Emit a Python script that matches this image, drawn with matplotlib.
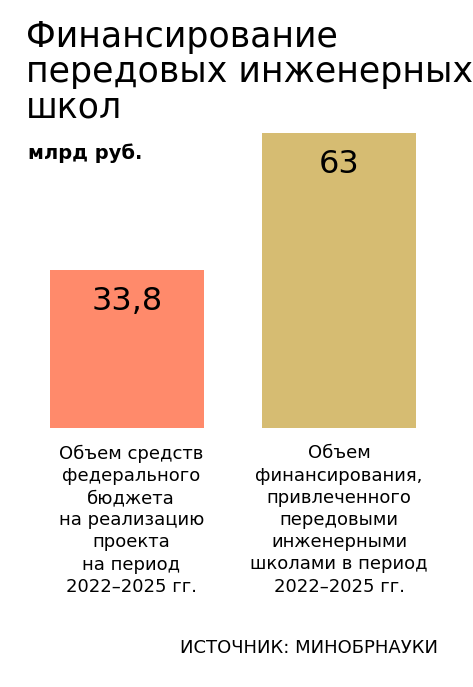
import matplotlib.pyplot as plt

plt.rcParams['font.family'] = ['Liberation Sans Narrow', 'DejaVu Sans']

values = [33.8, 63]
value_labels = ['33,8', '63']
captions = ['Объем средств\nфедерального\nбюджета\nна реализацию\nпроекта\nна период\n2022–2025 гг.',
            'Объем\nфинансирования,\nпривлеченного\nпередовыми\nинженерными\nшколами в период\n2022–2025 гг.']
colors = ['#FF8A6B', '#D6BC72']

W, H = 473, 687
fig = plt.figure(figsize=(W / 100, H / 100), dpi=100)
ax = fig.add_axes([50 / W, (H - 428) / H, 366 / W, 295 / H])
w = 0.726
ax.bar([0, 1], values, width=w, color=colors)
ax.set_xlim(-w / 2, 1 + w / 2)
ax.set_ylim(0, 63)
ax.axis('off')

for i, (v, lab) in enumerate(zip(values, value_labels)):
    ax.text(i, v - 3.5, lab, ha='center', va='top', fontsize=23)
    ax.text(i + (0.02 if i == 0 else 0), -3.5, captions[i], ha='center', va='top',
            fontsize=13, linespacing=1.3)

fig.text(26 / W, 1 - 20 / H, 'Финансирование\nпередовых инженерных\nшкол', ha='left', va='top',
         fontsize=25, linespacing=1.05)
fig.text(28 / W, 1 - 143 / H, 'млрд руб.', ha='left', va='top', fontsize=14, fontweight='bold')
fig.text(438 / W, 1 - 648 / H, 'ИСТОЧНИК: МИНОБРНАУКИ', ha='right', va='center', fontsize=13)

fig.savefig('out.png', dpi=100)
